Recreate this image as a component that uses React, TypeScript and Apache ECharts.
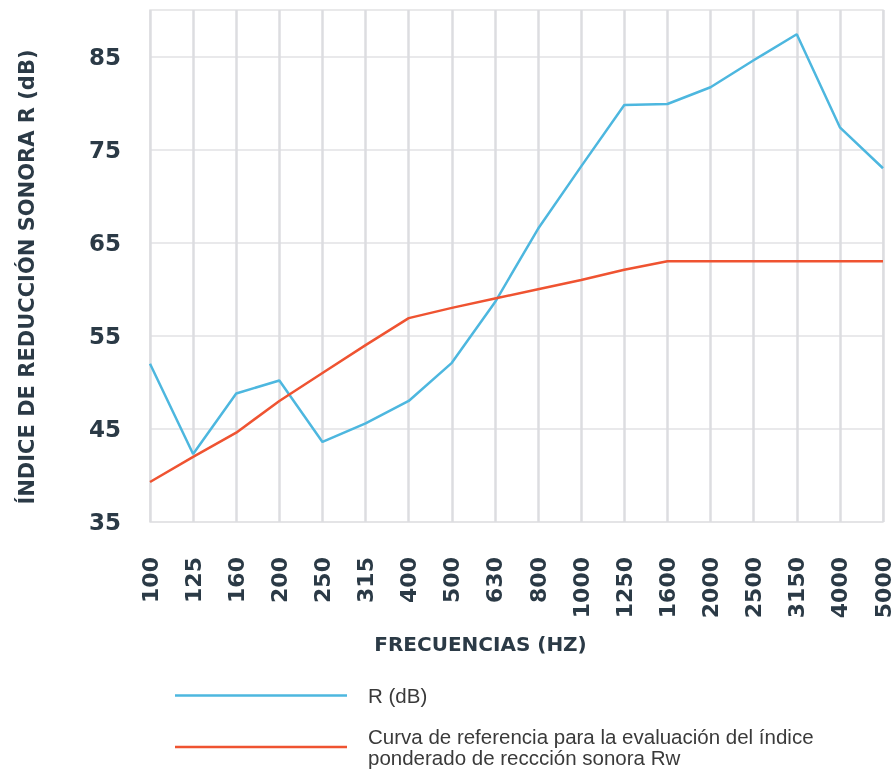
import React, { useEffect, useRef } from "react";
import * as echarts from "echarts";

const frequencies = ["100", "125", "160", "200", "250", "315", "400", "500", "630", "800", "1000", "1250", "1600", "2000", "2500", "3150", "4000", "5000"];
const rValues = [52.0, 42.3, 48.8, 50.2, 43.6, 45.6, 48.0, 52.1, 58.6, 66.5, 73.2, 79.8, 79.9, 81.7, 84.6, 87.4, 77.4, 73.0];
const refValues = [39.3, 42.0, 44.6, 48.0, 51.0, 54.0, 56.9, 58.0, 59.0, 60.0, 61.0, 62.1, 63.0, 63.0, 63.0, 63.0, 63.0, 63.0];
const seriesNames = ["R (dB)", "Curva de referencia para la evaluación del índice\nponderado de reccción sonora Rw"];

const BLUE = "#4db7df";
const RED = "#ef5331";
const TEXT = "#2b3a46";
const FONT = "DejaVu Sans";
const LEGEND_FONT = { fontFamily: "Liberation Sans", fontSize: 20.5, lineHeight: 21, color: "#3a3a3a", padding: [0, 0, 0, 16] };

export default function App() {
  const ref = useRef<HTMLDivElement>(null);
  useEffect(() => {
    const chart = echarts.init(ref.current!, undefined, { renderer: "svg" });
    chart.setOption({
      animation: false,
      grid: {
        left: 150,
        right: 13,
        top: 10,
        bottom: 247,
        show: true,
        borderColor: "#e2e2e4",
        borderWidth: 1.5,
        backgroundColor: "transparent",
      },
      legend: [
        {
          data: [seriesNames[0]],
          left: 170,
          top: 680,
          icon: "rect",
          itemWidth: 172,
          itemHeight: 2.5,
          textStyle: LEGEND_FONT,
          selectedMode: false,
        },
        {
          data: [seriesNames[1]],
          left: 170,
          top: 721,
          icon: "rect",
          itemWidth: 172,
          itemHeight: 2.5,
          textStyle: LEGEND_FONT,
          selectedMode: false,
        },
      ],
      xAxis: {
        type: "category",
        data: frequencies,
        boundaryGap: false,
        name: "FRECUENCIAS (HZ)",
        nameLocation: "middle",
        nameGap: 112,
        nameTextStyle: { fontFamily: FONT, fontWeight: "bold", fontSize: 20, color: TEXT, padding: [0, 72, 0, 0] },
        axisLine: { show: false },
        axisTick: { show: false },
        axisLabel: {
          interval: 0,
          rotate: 90,
          margin: 35,
          fontFamily: FONT,
          fontWeight: "bold",
          fontSize: 22,
          color: TEXT,
        },
        splitLine: { show: true, interval: 0, lineStyle: { color: "#dcdde0", width: 2.5 } },
      },
      yAxis: {
        type: "value",
        min: 35,
        max: 90,
        interval: 5,
        name: "ÍNDICE DE REDUCCIÓN SONORA R (dB)",
        nameLocation: "middle",
        nameRotate: 90,
        nameGap: 113,
        nameTextStyle: { fontFamily: FONT, fontWeight: "bold", fontSize: 21, color: TEXT, padding: [0, 22, 0, 0] },
        axisLine: { show: false },
        axisTick: { show: false },
        axisLabel: {
          margin: 29,
          fontFamily: FONT,
          fontWeight: "bold",
          fontSize: 23,
          color: TEXT,
          formatter: (v: number) => ((v - 35) % 10 === 0 ? String(v) : ""),
        },
        splitLine: { show: true, lineStyle: { color: ["#e2e2e4", "rgba(0,0,0,0)"], width: 1.5 } },
      },
      series: [
        {
          name: seriesNames[0],
          type: "line",
          data: rValues,
          symbol: "none",
          lineStyle: { color: BLUE, width: 2.5 },
          itemStyle: { color: BLUE },
          z: 3,
        },
        {
          name: seriesNames[1],
          type: "line",
          data: refValues,
          symbol: "none",
          lineStyle: { color: RED, width: 2.5 },
          itemStyle: { color: RED },
          z: 3,
        },
      ],
    });
    return () => chart.dispose();
  }, []);
  return <div ref={ref} style={{ position: "fixed", left: 0, top: 0, width: 896, height: 769 }} />;
}
